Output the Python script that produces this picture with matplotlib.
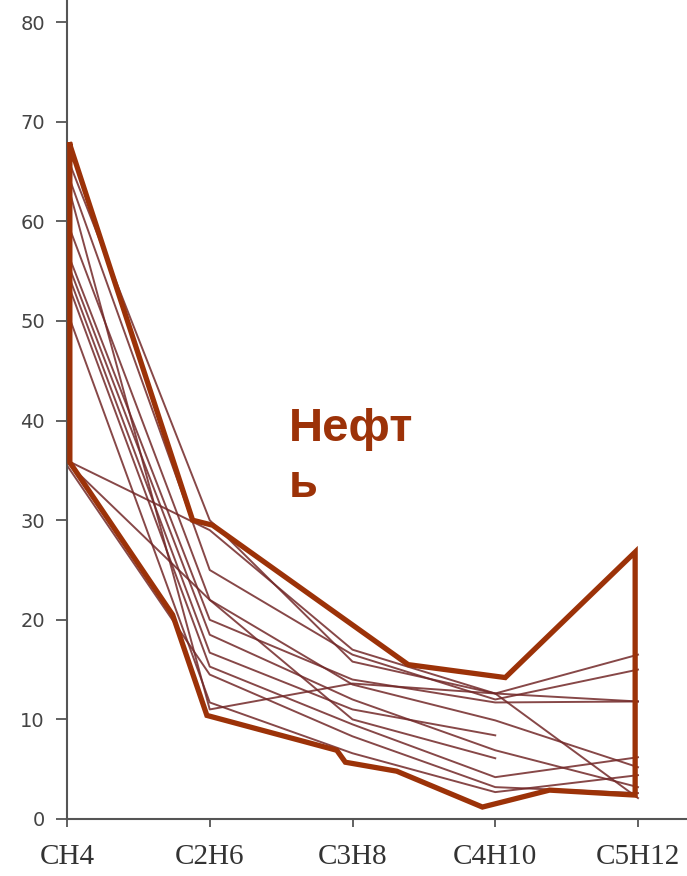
"""
plot.py - CH4..C5H12 composition profiles with the oil ("Нефть") envelope.
"""

import matplotlib
matplotlib.use("Agg")
import matplotlib.pyplot as plt

# categories along the x axis
components = ["CH4", "C2H6", "C3H8", "C4H10", "C5H12"]

# thin profile lines, values per component (None = line stops earlier)
profiles = [
    [66.5, 30.0, 15.8, 12.6, 16.5],
    [65.0, 25.0, 16.5, 12.0, 15.0],
    [64.0, 11.0, 13.6, 12.6, 11.8],
    [60.0, 22.0, 13.5, 9.9, 5.2],
    [57.0, 20.0, 14.0, 11.7, 11.8],
    [56.0, 18.5, 12.0, 6.9, 3.2],
    [55.0, 16.7, 11.0, 8.4, None],
    [54.0, 15.3, 9.5, 4.2, 6.2],
    [51.0, 11.7, 6.6, 2.7, 4.4],
    [36.0, 29.0, 17.0, 12.6, 2.1],
    [35.8, 22.0, 10.0, 6.1, None],
    [35.5, 14.5, 8.3, 3.2, 2.6],
]

# hand-drawn outline around the oil field (x in category units)
outline_x = [0.02, 0.88, 1.02, 2.39, 3.07, 3.98, 3.98, 3.38, 2.91, 2.31, 1.95, 1.89, 0.98, 0.74, 0.02, 0.02]
outline_y = [67.7, 30.0, 29.5, 15.5, 14.2, 26.8, 2.4, 2.9, 1.2, 4.8, 5.7, 6.9, 10.4, 20.5, 35.8, 67.7]

label = "Нефт\nь"

LINE_COLOR = "#722828"
OUTLINE_COLOR = "#9C3208"

fig = plt.figure(figsize=(6.87, 8.76), dpi=100)
ax = fig.add_axes([67 / 687, 57 / 876, 620 / 687, 819 / 876])

xs = list(range(len(components)))
for row in profiles:
    px = [x for x, v in zip(xs, row) if v is not None]
    py = [v for v in row if v is not None]
    ax.plot(px, py, color=LINE_COLOR, linewidth=1.4, alpha=0.85, zorder=2)

ax.plot(outline_x, outline_y, color=OUTLINE_COLOR, linewidth=3.8,
        solid_joinstyle="miter", zorder=3)

ax.text(1.555, 41.4, label, color=OUTLINE_COLOR, fontsize=34, fontweight="bold",
        family="Liberation Sans", ha="left", va="top", linespacing=1.35)

ax.set_xlim(0, 620 / 142.75)
ax.set_ylim(0, 819 / 9.96)
ax.set_xticks(xs)
ax.set_xticklabels(components, family="Liberation Serif", fontsize=21, color="#333333")
ax.set_yticks(range(0, 81, 10))
ax.tick_params(axis="y", labelsize=14, labelcolor="#444444", length=8, width=1.3,
               color="#555555", pad=8)
ax.tick_params(axis="x", length=6, width=1.3, color="#555555", pad=12)

for side in ("top", "right"):
    ax.spines[side].set_visible(False)
for side in ("left", "bottom"):
    ax.spines[side].set_color("#555555")
    ax.spines[side].set_linewidth(1.5)

fig.savefig("out.png", dpi=100)
plt.close(fig)
